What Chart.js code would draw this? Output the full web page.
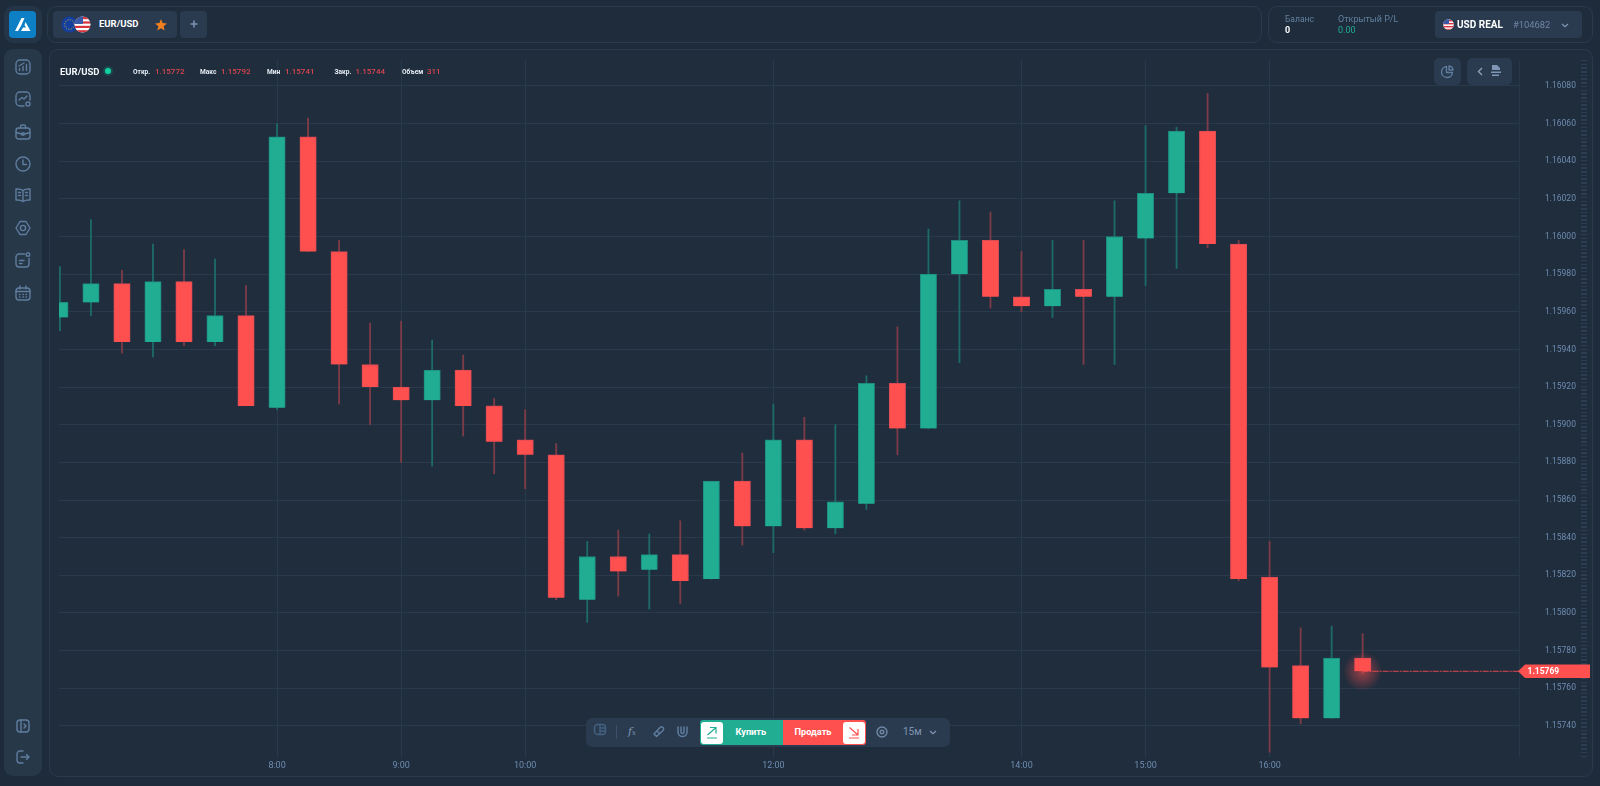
<!DOCTYPE html>
<html lang="ru"><head><meta charset="utf-8"><title>EUR/USD</title>
<script src="https://cdn.jsdelivr.net/npm/chart.js@4/dist/chart.umd.min.js"></script>
<style>
*{box-sizing:border-box}
html,body{margin:0;padding:0;width:1600px;height:786px;overflow:hidden;background:#1d2b3b;font-family:Roboto,sans-serif}
.a{position:absolute}
.panel{border:1px solid #2a3a4d;border-radius:9px;background:#1e2c3c}
.tile{background:#2a3b50;border-radius:4px}
.t{position:absolute;white-space:nowrap;line-height:1}
.lab{font-size:6.6px;font-weight:700;color:#e6edf5;top:68.5px}
.val{font-size:8px;color:#dd454f;top:67.5px;font-weight:500}
canvas{position:absolute;left:0;top:0}
svg{position:absolute;overflow:visible}
.ic{fill:none;stroke:#5f7d9f;stroke-width:1.4;stroke-linecap:round;stroke-linejoin:round}
#ruler{left:1581px;top:60px;width:6px;height:697px;background:repeating-linear-gradient(to bottom,#2d3e52 0,#2d3e52 1.5px,transparent 1.5px,transparent 3.7px)}
</style></head><body>
<div class="a panel" style="left:47px;top:6px;width:1215px;height:37px"></div>
<div class="a panel" style="left:1268px;top:6px;width:325px;height:37px"></div>
<div class="a" style="left:4px;top:6px;width:38px;height:37px;background:#253548;border-radius:9px"></div>
<div class="a" style="left:9px;top:11px;width:27px;height:27px;background:#0d7fc4;border-radius:4px"></div>
<svg style="left:9px;top:11px" width="27" height="27"><path d="M6 20 L12.5 7 L15.5 7 L12 15 L9 20 Z M16.5 11 L21.5 20 L12 20 L14 16.5 L17 16.5 L15.5 14 Z" fill="#fff"/></svg>
<div class="a" style="left:4px;top:49px;width:38px;height:727px;background:#273849;border-radius:9px"></div>
<div class="a panel" style="left:49px;top:49px;width:1544px;height:727.5px;background:#1f2d3d"></div>
<div class="a" id="ruler"></div>

<canvas id="c" width="1600" height="788" style="width:1600px;height:788px"></canvas>

<!-- tab -->
<div class="a tile" style="left:53px;top:11px;width:124px;height:27px"></div>
<svg style="left:61px;top:16px" width="18" height="18"><circle cx="8.5" cy="8.5" r="8" fill="#143f9c"/><circle cx="8.5" cy="8.5" r="4.8" fill="none" stroke="#d8b93a" stroke-width="1" stroke-dasharray="1 1.5"/></svg>
<svg style="left:74px;top:16px" width="18" height="18"><defs><clipPath id="u1"><circle cx="8.5" cy="8.5" r="8"/></clipPath></defs><g clip-path="url(#u1)"><rect width="18" height="18" fill="#fff"/><rect y="1" width="18" height="2.2" fill="#d8343f"/><rect y="5.4" width="18" height="2.2" fill="#d8343f"/><rect y="9.8" width="18" height="2.2" fill="#d8343f"/><rect y="14.2" width="18" height="2.2" fill="#d8343f"/><rect width="9" height="8" fill="#3a5aa8"/></g></svg>
<div class="t" style="left:99px;top:18.5px;font-size:9.5px;font-weight:700;color:#fff">EUR/USD</div>
<svg style="left:155px;top:19px" width="12" height="12"><path d="M6 0 L7.6 4 L12 4.4 L8.6 7.2 L9.7 11.6 L6 9.2 L2.3 11.6 L3.4 7.2 L0 4.4 L4.4 4 Z" fill="#f2811d"/></svg>
<div class="a tile" style="left:180px;top:11px;width:27px;height:27px"></div>
<svg style="left:190px;top:20px" width="8" height="8"><path d="M4 .5V7.5M.5 4H7.5" stroke="#7c93b0" stroke-width="1.6"/></svg>

<!-- account -->
<div class="t" style="left:1285px;top:15px;font-size:8.5px;color:#62809f">Баланс</div>
<div class="t" style="left:1285px;top:25.5px;font-size:9px;font-weight:700;color:#fff">0</div>
<div class="t" style="left:1338px;top:15px;font-size:9px;color:#62809f">Открытый P/L</div>
<div class="t" style="left:1338px;top:25.5px;font-size:9px;color:#20ad92">0.00</div>
<div class="a tile" style="left:1435px;top:11px;width:147px;height:27px"></div>
<svg style="left:1443px;top:19px" width="11" height="11"><defs><clipPath id="u2"><circle cx="5.5" cy="5.5" r="5.3"/></clipPath></defs><g clip-path="url(#u2)"><rect width="11" height="11" fill="#fff"/><rect y="1" width="11" height="1.4" fill="#d8343f"/><rect y="4" width="11" height="1.4" fill="#d8343f"/><rect y="7" width="11" height="1.4" fill="#d8343f"/><rect y="9.8" width="11" height="1.4" fill="#d8343f"/><rect width="6" height="5" fill="#3a5aa8"/></g></svg>
<div class="t" style="left:1457px;top:19.5px;font-size:10px;font-weight:700;color:#fff">USD REAL</div>
<div class="t" style="left:1513px;top:19.5px;font-size:9.4px;color:#6f86a3">#104682</div>
<svg style="left:1561px;top:23px" width="8" height="5"><path d="M1 1L4 3.6L7 1" fill="none" stroke="#8096b2" stroke-width="1.2"/></svg>

<!-- sidebar icons -->
<svg class="ic" style="left:15px;top:59px" width="16" height="16"><rect x="1" y="1" width="14" height="14" rx="4"/><path d="M4.5 11.5V9.5M8 11.5V7.5M11.5 11.5V5.5M4 7L9 4"/></svg>
<svg class="ic" style="left:15px;top:91px" width="16" height="16"><path d="M9 15H5A4 4 0 0 1 1 11V5A4 4 0 0 1 5 1H11A4 4 0 0 1 15 5V9M4 9L7 6.5L9 8L12 5"/><circle cx="13" cy="13" r="2"/></svg>
<svg class="ic" style="left:15px;top:124px" width="16" height="16"><rect x="1" y="4" width="14" height="11" rx="2.5"/><path d="M5.5 4V2.5A1.5 1.5 0 0 1 7 1H9A1.5 1.5 0 0 1 10.5 2.5V4M1 8.5L6.5 10M15 8.5L9.5 10"/><rect x="7" y="9" width="2" height="2"/></svg>
<svg class="ic" style="left:15px;top:156px" width="16" height="16"><circle cx="8" cy="8" r="7"/><path d="M8 4V8.5H11.5"/></svg>
<svg class="ic" style="left:15px;top:187px" width="16" height="16"><path d="M8 3.5C6 2 3.5 1.8 1 2V13C3.5 12.8 6 13 8 14.5C10 13 12.5 12.8 15 13V2C12.5 1.8 10 2 8 3.5ZM8 3.5V14.5M3.5 5.5H5.5M3.5 8.5H5.5M10.5 5.5H12.5M10.5 8.5H12.5"/></svg>
<svg class="ic" style="left:15px;top:220px" width="16" height="16"><path d="M5 1.5H11L15 8L11 14.5H5L1 8Z"/><circle cx="8" cy="8" r="2.6"/></svg>
<svg class="ic" style="left:15px;top:252px" width="16" height="16"><path d="M9.5 2H4A3 3 0 0 0 1 5V12A3 3 0 0 0 4 15H11A3 3 0 0 0 14 12V6.5M4.5 8.5H9M4.5 11.5H7"/><circle cx="13" cy="2.5" r="1.8"/></svg>
<svg class="ic" style="left:15px;top:285px" width="16" height="16"><rect x="1" y="3" width="14" height="12" rx="3"/><path d="M5 1V4M11 1V4M1 6.5H15M4.5 9.5H5M8 9.5H8.5M11 9.5H11.5M4.5 12H5M8 12H8.5M11 12H11.5"/></svg>
<svg class="ic" style="left:16px;top:719px" width="14" height="14"><rect x="1" y="1" width="12" height="12" rx="3"/><path d="M5 1V13M8 5L10 7L8 9"/></svg>
<svg class="ic" style="left:16px;top:750px" width="14" height="14"><path d="M7 1H4A3 3 0 0 0 1 4V10A3 3 0 0 0 4 13H7M5 7H13M10.5 4.5L13 7L10.5 9.5"/></svg>

<!-- chart header -->
<div class="t" style="left:60px;top:66.5px;font-size:9.5px;font-weight:700;color:#f3f6fa">EUR/USD</div>
<div class="a" style="left:104.5px;top:68px;width:6px;height:6px;border-radius:50%;background:#12d1a0;box-shadow:0 0 0 2px rgba(18,209,160,.18)"></div>
<div class="t lab" style="left:133px">Откр.</div><div class="t val" style="left:155px">1.15772</div>
<div class="t lab" style="left:200px">Макс</div><div class="t val" style="left:221px">1.15792</div>
<div class="t lab" style="left:267px">Мин</div><div class="t val" style="left:285px">1.15741</div>
<div class="t lab" style="left:334.5px">Закр.</div><div class="t val" style="left:355.5px">1.15744</div>
<div class="t lab" style="left:402px">Объем</div><div class="t val" style="left:427px">311</div>

<!-- top-right buttons -->
<div class="a tile" style="left:1434px;top:58px;width:27px;height:27px;border-radius:5px"></div>
<svg class="ic" style="left:1441px;top:65px" width="13" height="13"><path d="M5.5 1.5A5.5 5.5 0 1 0 11.5 7.5H5.5Z M8 1A4.5 4.5 0 0 1 12 5H8Z"/></svg>
<div class="a tile" style="left:1467px;top:58px;width:45px;height:27px;border-radius:5px"></div>
<svg style="left:1477px;top:67px" width="6" height="9"><path d="M5 1L1.5 4.5L5 8" fill="none" stroke="#8aa0bb" stroke-width="1.4"/></svg>
<svg style="left:1490px;top:64px" width="12" height="13"><path d="M2 1H7L10 4V6H2ZM1 7.5H11V9H1ZM2 10.5H9V12H2Z" fill="#7f97b4"/></svg>

<!-- bottom toolbar -->
<div class="a" style="left:586px;top:717.5px;width:364px;height:29.5px;background:#2a3b50;border-radius:6px"></div>
<svg class="ic" style="left:594px;top:724px;stroke:#44617f" width="12" height="12"><rect x=".5" y=".5" width="11" height="10" rx="3"/><path d="M6 .5V10.5M6 4H11.5M6 7H11.5"/></svg>
<div class="a" style="left:616px;top:725px;width:1px;height:14px;background:#3d506a"></div>
<div class="t" style="left:628px;top:726px;font-size:11px;font-style:italic;color:#7f97b4;font-family:'DejaVu Serif'">f<span style="font-size:7px">x</span></div>
<svg class="ic" style="left:653px;top:726px" width="11" height="11"><path d="M2 9L1 8 7 1.5A2 2 0 0 1 10 4.5L3.5 10.5Z M4 5L6.5 7.5"/></svg>
<svg class="ic" style="left:677px;top:726px" width="11" height="11"><path d="M1 1V6A4.5 4.5 0 0 0 10 6V1M4 1V6A1.5 1.5 0 0 0 7 6V1" stroke-width="1.5"/></svg>
<div class="a" style="left:699.5px;top:720px;width:83px;height:25px;background:#20ad92;border-radius:3px 0 0 3px"></div>
<div class="a" style="left:701px;top:721.5px;width:22px;height:22px;background:#fff;border-radius:3px"></div>
<svg style="left:706px;top:726px" width="12" height="13"><path d="M1.5 9L10 1.5M4 1.5H10V7.5M1 12H11" fill="none" stroke="#20ad92" stroke-width="1.2"/></svg>
<div class="t" style="left:735.5px;top:727px;font-size:9.2px;font-weight:700;color:#fff">Купить</div>
<div class="a" style="left:782.5px;top:720px;width:83.5px;height:25px;background:#ff5050;border-radius:0 3px 3px 0"></div>
<div class="a" style="left:842.5px;top:721.5px;width:22px;height:22px;background:#fff;border-radius:3px"></div>
<svg style="left:847.5px;top:726px" width="12" height="13"><path d="M1.5 1.5L10 9M10 3V9H4M1 12H11" fill="none" stroke="#ff5050" stroke-width="1.2"/></svg>
<div class="t" style="left:794.5px;top:727px;font-size:9.2px;font-weight:700;color:#fff">Продать</div>
<svg class="ic" style="left:876px;top:726px;stroke:#7088a5" width="12" height="12"><circle cx="6" cy="6" r="5"/><circle cx="6" cy="6" r="1.8"/></svg>
<div class="t" style="left:903px;top:727px;font-size:10px;color:#8096b2">15м</div>
<svg style="left:929px;top:730px" width="8" height="5"><path d="M1 1L4 3.6L7 1" fill="none" stroke="#8096b2" stroke-width="1.2"/></svg>

<script>
const opens  = [1.15957,1.15965,1.15975,1.15944,1.15976,1.15944,1.15958,1.15909,1.16053,1.15992,1.15932,1.15920,1.15913,1.15929,1.15910,1.15892,1.15884,1.15807,1.15830,1.15823,1.15831,1.15818,1.15870,1.15846,1.15892,1.15845,1.15858,1.15922,1.15898,1.15980,1.15998,1.15968,1.15963,1.15972,1.15968,1.15999,1.16023,1.16056,1.15996,1.15819,1.15772,1.15744,1.15776];
const highs  = [1.15984,1.16009,1.15982,1.15996,1.15993,1.15988,1.15974,1.16060,1.16063,1.15998,1.15954,1.15955,1.15945,1.15937,1.15914,1.15908,1.15890,1.15838,1.15844,1.15842,1.15849,1.15870,1.15885,1.15911,1.15904,1.15900,1.15926,1.15952,1.16004,1.16019,1.16013,1.15992,1.15998,1.15998,1.16019,1.16059,1.16058,1.16076,1.15998,1.15838,1.15792,1.15793,1.15789];
const lows   = [1.15950,1.15958,1.15938,1.15936,1.15942,1.15942,1.15910,1.15908,1.15992,1.15911,1.15900,1.15880,1.15878,1.15894,1.15874,1.15866,1.15807,1.15795,1.15809,1.15802,1.15805,1.15818,1.15836,1.15832,1.15844,1.15842,1.15855,1.15884,1.15898,1.15933,1.15962,1.15960,1.15957,1.15932,1.15932,1.15974,1.15983,1.15994,1.15817,1.15726,1.15741,1.15744,1.15768];
const closes = [1.15965,1.15975,1.15944,1.15976,1.15944,1.15958,1.15910,1.16053,1.15992,1.15932,1.15920,1.15913,1.15929,1.15910,1.15891,1.15884,1.15808,1.15830,1.15822,1.15831,1.15817,1.15870,1.15846,1.15892,1.15845,1.15859,1.15922,1.15898,1.15980,1.15998,1.15968,1.15963,1.15972,1.15968,1.16000,1.16023,1.16056,1.15996,1.15818,1.15771,1.15744,1.15776,1.15769];
const priceTicks = [1.16080,1.16060,1.16040,1.16020,1.16000,1.15980,1.15960,1.15940,1.15920,1.15900,1.15880,1.15860,1.15840,1.15820,1.15800,1.15780,1.15760,1.15740];
const timeTickSlots = [7,11,15,23,31,35,39];
const timeTickLabels = ['8:00','9:00','10:00','12:00','14:00','15:00','16:00'];
const lastPrice = 1.15769;

const GREEN='#20ad92', RED='#ff5050', GREEN_W='#1d6a68', RED_W='#7c3b47', GRID='#2a3a4d';
const up = opens.map((o,i)=>closes[i]>=o);
const slots = opens.map((_,i)=>i);
const slotMin=-0.03, slotMax=47.04;

const lastMark = {
  id:'lastMark',
  afterDatasetsDraw(chart){
    const {ctx,scales:{x,y}}=chart;
    const px=x.getPixelForValue(slots[slots.length-1]), py=y.getPixelForValue(lastPrice);
    const g=ctx.createRadialGradient(px,py,2,px,py,20);
    g.addColorStop(0,'rgba(255,80,80,.5)'); g.addColorStop(1,'rgba(255,80,80,0)');
    ctx.save(); ctx.fillStyle=g; ctx.beginPath(); ctx.arc(px,py,20,0,Math.PI*2); ctx.fill(); ctx.restore();
  },
  afterDraw(chart){
    const {ctx,chartArea:a,scales:{y}}=chart;
    const py=y.getPixelForValue(lastPrice), L=a.right-1;
    ctx.save();
    ctx.fillStyle=RED; ctx.beginPath();
    ctx.moveTo(L,py); ctx.lineTo(L+7,py-6.8); ctx.lineTo(1590,py-6.8); ctx.lineTo(1590,py+6.8); ctx.lineTo(L+7,py+6.8); ctx.closePath(); ctx.fill();
    ctx.fillStyle='#fff'; ctx.font='700 8.5px Roboto'; ctx.textBaseline='middle'; ctx.textAlign='left';
    ctx.fillText(lastPrice.toFixed(5),1527.5,py+.5);
    ctx.restore();
  }
};

new Chart(document.getElementById('c'),{
  data:{datasets:[
    {type:'line',order:0,data:[{x:slots[slots.length-1],y:lastPrice},{x:slotMax,y:lastPrice}],borderColor:'#e0484f',borderWidth:1,borderDash:[6,1,2,1],pointRadius:0},
    {type:'bar',order:1,grouped:false,barThickness:16.4,borderWidth:1,
      data:slots.map(i=>({x:i,y:[opens[i],closes[i]]})),
      backgroundColor:up.map(u=>u?GREEN:RED),borderColor:up.map(u=>u?'#1f8a80':'#d94b55')},
    {type:'bar',order:2,grouped:false,barThickness:1.2,borderWidth:0,
      data:slots.map(i=>({x:i,y:[lows[i],highs[i]]})),
      backgroundColor:up.map(u=>u?GREEN_W:RED_W)}
  ]},
  options:{
    responsive:false,animation:false,events:[],
    layout:{padding:{left:59,top:60,right:0,bottom:0}},
    plugins:{legend:{display:false},tooltip:{enabled:false}},
    scales:{
      x:{type:'linear',offset:false,min:slotMin,max:slotMax,
        afterBuildTicks(s){s.ticks=timeTickSlots.map(v=>({value:v}));},
        afterFit(s){s.height=26;},
        grid:{offset:false,color:GRID,lineWidth:1,drawTicks:false},border:{display:false},
        ticks:{autoSkip:false,maxRotation:0,padding:3,color:'#6f8cb0',font:{family:'Roboto',size:9},callback:(v,i)=>timeTickLabels[i]}},
      y:{type:'linear',position:'right',min:1.157235,max:1.160938,
        afterBuildTicks(s){s.ticks=priceTicks.map(v=>({value:v}));},
        afterFit(s){s.width=81;},
        grid:{color:GRID,lineWidth:1,drawTicks:false},border:{display:true,color:'#273748'},
        ticks:{autoSkip:false,padding:26,color:'#6f8cb0',font:{family:'Roboto',size:8.5},callback:v=>v.toFixed(5)}}
    }
  },
  plugins:[lastMark]
});
</script>
</body></html>
